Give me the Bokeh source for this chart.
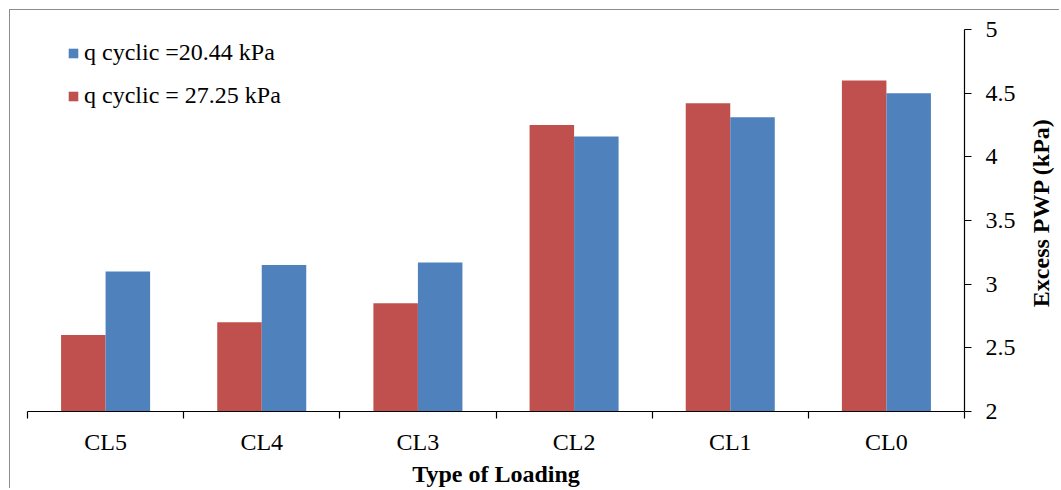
import math
from bokeh.plotting import figure
from bokeh.models import (Range1d, FixedTicker, ColumnDataSource, Legend, LegendItem,
                          NumeralTickFormatter, SingleIntervalTicker, Label)
from bokeh.transform import dodge
from bokeh.embed import file_html
from bokeh.resources import INLINE
import numpy as np

categories = ["CL5", "CL4", "CL3", "CL2", "CL1", "CL0"]
q_20_44 = [3.10, 3.15, 3.17, 4.16, 4.31, 4.50]
q_27_25 = [2.60, 2.70, 2.85, 4.25, 4.42, 4.60]
series_labels = ["q cyclic =20.44 kPa", "q cyclic = 27.25 kPa"]
x_title = "Type of Loading"
y_title = "Excess PWP (kPa)"
y_start, y_end, y_step = 2, 5, 0.5

FONT = "Liberation Serif"
RED = "#C0504D"
BLUE = "#4F81BD"

pos = np.arange(len(categories)) + 0.5
src = ColumnDataSource(dict(x=pos, blue=q_20_44, red=q_27_25, cat=categories))

p = figure(width=1050, height=479, output_backend="svg", toolbar_location=None,
           x_range=Range1d(0, len(categories)), y_range=Range1d(y_start, y_end),
           y_axis_location="right",
           min_border_left=17, min_border_right=96, min_border_top=19, min_border_bottom=77,
           margin=(9, 0, 0, 9))
p.styles = {"border-top": "1.5px solid #8c8c8c", "border-left": "1.5px solid #8c8c8c"}
p.outline_line_color = None
p.background_fill_color = "white"
p.border_fill_color = "white"
p.xgrid.visible = False
p.ygrid.visible = False

bw = 0.285
red_r = p.vbar(x=dodge("x", -bw / 2, range=p.x_range), top="red", bottom=y_start, width=bw,
               source=src, fill_color=RED, line_color=None)
blue_r = p.vbar(x=dodge("x", bw / 2, range=p.x_range), top="blue", bottom=y_start, width=bw,
                source=src, fill_color=BLUE, line_color=None)

xa = p.xaxis[0]
xa.ticker = FixedTicker(ticks=[float(v) for v in pos],
                        minor_ticks=[float(v) for v in range(len(categories) + 1)])
xa.major_label_overrides = {float(v): c for v, c in zip(pos, categories)}
xa.major_tick_out = 0
xa.major_tick_in = 0
xa.minor_tick_out = 7
xa.minor_tick_in = 0
xa.minor_tick_line_color = "black"
xa.minor_tick_line_width = 1.2
xa.major_label_standoff = 10
xa.axis_label = x_title
xa.axis_label_standoff = 3

ya = p.yaxis[0]
ya.ticker = SingleIntervalTicker(interval=y_step, num_minor_ticks=0)
ya.formatter = NumeralTickFormatter(format="0.[0]")
ya.major_tick_out = 7
ya.major_tick_in = 0
ya.minor_tick_out = 0
ya.minor_tick_in = 0
ya.major_tick_line_color = "black"
ya.major_tick_line_width = 1.2
ya.major_label_standoff = 14

for ax in (xa, ya):
    ax.axis_line_color = "black"
    ax.axis_line_width = 1.2
    ax.major_label_text_font = FONT
    ax.major_label_text_font_size = "24px"
    ax.major_label_text_color = "black"
    ax.axis_label_text_font = FONT
    ax.axis_label_text_font_size = "24px"
    ax.axis_label_text_font_style = "bold"
    ax.axis_label_text_color = "black"

# y-axis title, reading bottom-to-top as in the reference
ytitle = Label(x=22, y=199, x_units="screen", y_units="screen", text=y_title,
               angle=math.pi / 2, text_align="center", text_baseline="middle",
               text_font=FONT, text_font_size="24px", text_font_style="bold",
               text_color="black")
p.add_layout(ytitle, "right")

legend = Legend(items=[LegendItem(label=series_labels[0], renderers=[blue_r]),
                       LegendItem(label=series_labels[1], renderers=[red_r])],
                location=(40, 302), glyph_width=12, glyph_height=12, label_standoff=5,
                spacing=16, padding=0, margin=0, border_line_color=None,
                background_fill_alpha=0)
legend.label_text_font = FONT
legend.label_text_font_size = "24px"
legend.label_text_color = "black"
p.add_layout(legend)

open("out.html", "w").write(file_html(p, INLINE))
